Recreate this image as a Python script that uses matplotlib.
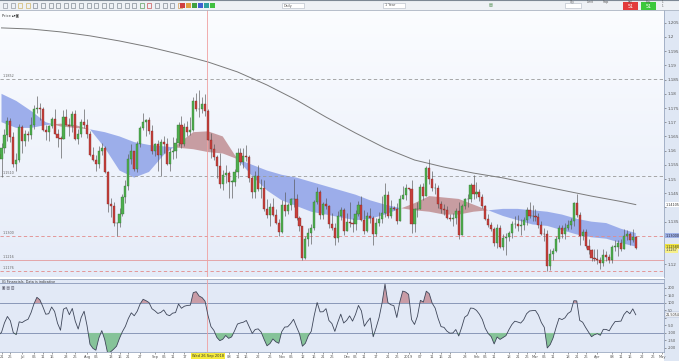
import numpy as np
import pandas as pd
import matplotlib
matplotlib.use("Agg")
import matplotlib.pyplot as plt
from matplotlib.patches import Rectangle
from matplotlib.transforms import blended_transform_factory

# ---------------- data (EUR/USD daily) ----------------
first_open = 1.1790
# history before the visible window (needed for the CCI window)
pre_close = [1.1694, 1.1720, 1.1655, 1.1624, 1.1537, 1.1665, 1.1693, 1.1659, 1.1693, 1.1720,
             1.1774, 1.1798, 1.1768, 1.1781, 1.1777, 1.1794, 1.1569, 1.1609, 1.1623, 1.1589, 1.1572]
pre_high = [1.1791, 1.1750, 1.1726, 1.1686, 1.1629, 1.1676, 1.1720, 1.1706, 1.1717, 1.1725,
            1.1795, 1.1840, 1.1798, 1.1813, 1.1797, 1.1808, 1.1852, 1.1623, 1.1636, 1.1632, 1.1614]
pre_low = [1.1676, 1.1680, 1.1645, 1.1611, 1.1510, 1.1530, 1.1637, 1.1650, 1.1653, 1.1650,
           1.1711, 1.1760, 1.1727, 1.1750, 1.1745, 1.1725, 1.1562, 1.1543, 1.1581, 1.1531, 1.1540]

# visible candles: 21 Jun 2018 .. 18 Apr 2019
close = [
    # Jun
    1.1608, 1.1655, 1.1703, 1.1647, 1.1554, 1.1568, 1.1684,
    # Jul
    1.1633, 1.1657, 1.1655, 1.1689, 1.1745, 1.1749, 1.1745, 1.1673, 1.1666, 1.1685, 1.1711,
    1.1659, 1.1643, 1.1642, 1.1720, 1.1691, 1.1686, 1.1729, 1.1641, 1.1657, 1.1701, 1.1691,
    # Aug
    1.1658, 1.1584, 1.1568, 1.1552, 1.1600, 1.1610, 1.1525, 1.1411, 1.1406, 1.1344, 1.1345,
    1.1377, 1.1437, 1.1475, 1.1571, 1.1599, 1.1536, 1.1623, 1.1679, 1.1701, 1.1709, 1.1669, 1.1600,
    # Sep
    1.1623, 1.1583, 1.1629, 1.1623, 1.1553, 1.1596, 1.1600, 1.1626, 1.1689, 1.1623,
    1.1683, 1.1666, 1.1673, 1.1775, 1.1747, 1.1747, 1.1763, 1.1738, 1.1639, 1.1604,
    # Oct
    1.1578, 1.1546, 1.1481, 1.1513, 1.1523, 1.1491, 1.1491, 1.1526, 1.1593, 1.1560, 1.1581,
    1.1578, 1.1502, 1.1453, 1.1512, 1.1465, 1.1468, 1.1393, 1.1374, 1.1401, 1.1375, 1.1345, 1.1312,
    # Nov
    1.1408, 1.1389, 1.1407, 1.1428, 1.1431, 1.1364, 1.1336, 1.1222, 1.1289, 1.1310, 1.1327,
    1.1418, 1.1453, 1.1373, 1.1411, 1.1406, 1.1340, 1.1327, 1.1291, 1.1370, 1.1392, 1.1317,
    # Dec
    1.1350, 1.1345, 1.1343, 1.1376, 1.1407, 1.1355, 1.1317, 1.1370, 1.1363, 1.1306, 1.1347,
    1.1359, 1.1379, 1.1445, 1.1370, 1.1398, 1.1396, 1.1353, 1.1430, 1.1443, 1.1467,
    # Jan
    1.1464, 1.1343, 1.1393, 1.1395, 1.1473, 1.1441, 1.1539, 1.1501, 1.1467, 1.1470, 1.1411, 1.1393,
    1.1391, 1.1364, 1.1360, 1.1363, 1.1387, 1.1303, 1.1406, 1.1430, 1.1430, 1.1479, 1.1448,
    # Feb
    1.1455, 1.1436, 1.1406, 1.1361, 1.1339, 1.1324, 1.1276, 1.1326, 1.1262, 1.1294,
    1.1295, 1.1310, 1.1342, 1.1342, 1.1335, 1.1338, 1.1357, 1.1392, 1.1370, 1.1370,
    # Mar
    1.1365, 1.1339, 1.1308, 1.1307, 1.1195, 1.1236, 1.1245, 1.1288, 1.1327, 1.1306, 1.1327,
    1.1338, 1.1353, 1.1417, 1.1375, 1.1298, 1.1312, 1.1265, 1.1250, 1.1223, 1.1219,
    # Apr
    1.1214, 1.1205, 1.1234, 1.1224, 1.1215, 1.1262, 1.1262, 1.1274, 1.1253, 1.1300,
    1.1305, 1.1284, 1.1295, 1.1258]
high = [
    1.1628, 1.1676, 1.1718, 1.1715, 1.1667, 1.1590, 1.1692,
    1.1690, 1.1673, 1.1670, 1.1720, 1.1762, 1.1791, 1.1768, 1.1752, 1.1690, 1.1690, 1.1720,
    1.1746, 1.1676, 1.1650, 1.1743, 1.1747, 1.1715, 1.1739, 1.1743, 1.1676, 1.1713, 1.1747,
    1.1710, 1.1670, 1.1612, 1.1586, 1.1617, 1.1627, 1.1618, 1.1529, 1.1432, 1.1420, 1.1350,
    1.1397, 1.1446, 1.1498, 1.1588, 1.1623, 1.1600, 1.1634, 1.1688, 1.1733, 1.1711, 1.1718, 1.1691,
    1.1627, 1.1638, 1.1642, 1.1653, 1.1644, 1.1610, 1.1648, 1.1646, 1.1700, 1.1721,
    1.1699, 1.1704, 1.1717, 1.1788, 1.1804, 1.1815, 1.1790, 1.1798, 1.1747, 1.1663,
    1.1625, 1.1586, 1.1590, 1.1532, 1.1548, 1.1527, 1.1498, 1.1537, 1.1609, 1.1610, 1.1608,
    1.1621, 1.1584, 1.1509, 1.1530, 1.1548, 1.1499, 1.1496, 1.1428, 1.1414, 1.1434, 1.1393, 1.1358,
    1.1427, 1.1456, 1.1416, 1.1434, 1.1500, 1.1448, 1.1369, 1.1335, 1.1299, 1.1326, 1.1343,
    1.1425, 1.1473, 1.1460, 1.1418, 1.1434, 1.1410, 1.1381, 1.1345, 1.1389, 1.1402, 1.1397,
    1.1380, 1.1420, 1.1363, 1.1392, 1.1424, 1.1442, 1.1390, 1.1385, 1.1397, 1.1369, 1.1363,
    1.1383, 1.1440, 1.1486, 1.1458, 1.1426, 1.1404, 1.1415, 1.1443, 1.1474, 1.1484,
    1.1470, 1.1497, 1.1398, 1.1420, 1.1483, 1.1486, 1.1546, 1.1570, 1.1529, 1.1487, 1.1480, 1.1423,
    1.1413, 1.1405, 1.1378, 1.1380, 1.1397, 1.1420, 1.1413, 1.1434, 1.1447, 1.1486, 1.1514,
    1.1488, 1.1465, 1.1448, 1.1410, 1.1377, 1.1350, 1.1332, 1.1342, 1.1339, 1.1307,
    1.1309, 1.1318, 1.1352, 1.1369, 1.1372, 1.1360, 1.1368, 1.1402, 1.1420, 1.1409,
    1.1393, 1.1379, 1.1353, 1.1326, 1.1321, 1.1252, 1.1258, 1.1300, 1.1339, 1.1339, 1.1345,
    1.1355, 1.1362, 1.1419, 1.1448, 1.1384, 1.1325, 1.1325, 1.1290, 1.1255, 1.1255,
    1.1255, 1.1226, 1.1255, 1.1245, 1.1237, 1.1268, 1.1285, 1.1287, 1.1288, 1.1324,
    1.1322, 1.1315, 1.1324, 1.1300]
low = [
    1.1508, 1.1590, 1.1635, 1.1630, 1.1541, 1.1527, 1.1560,
    1.1590, 1.1616, 1.1635, 1.1642, 1.1675, 1.1733, 1.1708, 1.1670, 1.1636, 1.1633, 1.1680,
    1.1658, 1.1613, 1.1574, 1.1640, 1.1690, 1.1650, 1.1665, 1.1638, 1.1622, 1.1647, 1.1680,
    1.1643, 1.1580, 1.1564, 1.1529, 1.1540, 1.1583, 1.1520, 1.1385, 1.1365, 1.1336, 1.1301,
    1.1330, 1.1370, 1.1416, 1.1463, 1.1552, 1.1530, 1.1525, 1.1612, 1.1671, 1.1653, 1.1657, 1.1588,
    1.1580, 1.1530, 1.1510, 1.1593, 1.1548, 1.1527, 1.1569, 1.1575, 1.1615, 1.1611,
    1.1615, 1.1653, 1.1654, 1.1668, 1.1740, 1.1720, 1.1734, 1.1721, 1.1637, 1.1573,
    1.1567, 1.1505, 1.1470, 1.1463, 1.1486, 1.1432, 1.1434, 1.1474, 1.1502, 1.1550, 1.1540,
    1.1565, 1.1491, 1.1432, 1.1433, 1.1458, 1.1434, 1.1388, 1.1362, 1.1336, 1.1371, 1.1341, 1.1301,
    1.1311, 1.1369, 1.1377, 1.1392, 1.1403, 1.1357, 1.1318, 1.1216, 1.1217, 1.1263, 1.1272,
    1.1322, 1.1411, 1.1360, 1.1360, 1.1394, 1.1326, 1.1320, 1.1267, 1.1278, 1.1355, 1.1304,
    1.1318, 1.1332, 1.1314, 1.1321, 1.1371, 1.1354, 1.1307, 1.1312, 1.1346, 1.1269, 1.1301,
    1.1334, 1.1347, 1.1368, 1.1363, 1.1364, 1.1391, 1.1342, 1.1355, 1.1431, 1.1427,
    1.1460, 1.1310, 1.1315, 1.1366, 1.1398, 1.1425, 1.1439, 1.1483, 1.1457, 1.1447, 1.1397, 1.1382,
    1.1375, 1.1358, 1.1353, 1.1336, 1.1342, 1.1290, 1.1302, 1.1393, 1.1402, 1.1419, 1.1431,
    1.1434, 1.1424, 1.1397, 1.1356, 1.1330, 1.1317, 1.1265, 1.1258, 1.1258, 1.1249,
    1.1234, 1.1282, 1.1292, 1.1327, 1.1318, 1.1302, 1.1322, 1.1339, 1.1362, 1.1353,
    1.1352, 1.1326, 1.1304, 1.1283, 1.1176, 1.1180, 1.1214, 1.1242, 1.1280, 1.1291, 1.1290,
    1.1320, 1.1323, 1.1336, 1.1368, 1.1269, 1.1286, 1.1259, 1.1236, 1.1213, 1.1210,
    1.1200, 1.1183, 1.1193, 1.1210, 1.1205, 1.1206, 1.1248, 1.1229, 1.1247, 1.1252,
    1.1287, 1.1268, 1.1279, 1.1252]

# moving-average cloud (read every 5 bars) and 200-day MA (read every 10 bars)
cloud_bar = list(range(0, 216, 5))
ma_fast = [1.1700, 1.1680, 1.1680, 1.1690, 1.1695, 1.1690, 1.1675, 1.1610, 1.1530, 1.1505,
           1.1525, 1.1585, 1.1625, 1.1665, 1.1668, 1.1650, 1.1570, 1.1510, 1.1460, 1.1425,
           1.1405, 1.1385, 1.1375, 1.1365, 1.1355, 1.1360, 1.1375, 1.1395, 1.1415, 1.1440,
           1.1435, 1.1430, 1.1410, 1.1390, 1.1370, 1.1355, 1.1340, 1.1335, 1.1320, 1.1305,
           1.1295, 1.1290, 1.1275, 1.1262]
ma_slow = [1.1800, 1.1775, 1.1740, 1.1700, 1.1685, 1.1680, 1.1675, 1.1665, 1.1650, 1.1630,
           1.1620, 1.1615, 1.1610, 1.1605, 1.1595, 1.1590, 1.1570, 1.1550, 1.1530, 1.1515,
           1.1505, 1.1490, 1.1475, 1.1460, 1.1445, 1.1425, 1.1410, 1.1398, 1.1390, 1.1385,
           1.1375, 1.1375, 1.1385, 1.1390, 1.1395, 1.1395, 1.1390, 1.1385, 1.1375, 1.1360,
           1.1350, 1.1345, 1.1325, 1.1310]
ma200_bar = [0, 10, 20, 30, 40, 50, 60, 70, 80, 90, 100, 110, 120, 130, 140, 150, 160,
             170, 180, 190, 200, 210, 215]
ma200 = [1.2032, 1.2028, 1.2018, 1.2004, 1.1986, 1.1965, 1.1940, 1.1912, 1.1877, 1.1831,
         1.1778, 1.1718, 1.1662, 1.1609, 1.1567, 1.1542, 1.1521, 1.1504, 1.1482, 1.1461,
         1.1440, 1.1421, 1.1410]

levels_grey = [1.1852, 1.1510]
levels_red = [1.1300, 1.1216, 1.1176]
price_ticks = [1.205, 1.2, 1.195, 1.19, 1.185, 1.18, 1.175, 1.17, 1.165, 1.16, 1.155,
               1.15, 1.145, 1.14, 1.135, 1.13, 1.125, 1.12]
cci_ticks = [200, 150, 100, 50, 0, -50, -100, -150, -200]
crosshair_label = "Wed 26 Sep 2018"

# ---------------- prepare ----------------
all_close = np.array(pre_close + close)
all_high = np.array(pre_high + high)
all_low = np.array(pre_low + low)
all_open = np.concatenate([[first_open], all_close[:-1]])
all_high = np.maximum(all_high, np.maximum(all_open, all_close))
all_low = np.minimum(all_low, np.minimum(all_open, all_close))
n_pre = len(pre_close)
bars = np.arange(len(all_close)) - n_pre
dates = pd.bdate_range("2018-05-23", periods=len(all_close) + 12)

tp = pd.Series((all_high + all_low + all_close) / 3.0)
sma = tp.rolling(20).mean()
mad = tp.rolling(20).apply(lambda s: np.mean(np.abs(s - s.mean())), raw=True)
cci = ((tp - sma) / (0.015 * mad)).to_numpy()

# ---------------- figure ----------------
W, H = 679, 361
fig = plt.figure(figsize=(W / 100, H / 100), dpi=100)
fig.patch.set_facecolor("white")


def fx(px):
    return px / W


def fy(py):
    return 1 - py / H


X0, XR = 1.5, 2.95          # pixel of bar 0, pixels per bar
xlim = (-X0 / XR, (664 - X0) / XR)

# right strip and toolbar
fig.add_artist(Rectangle((fx(664), 0), fx(15), fy(10), transform=fig.transFigure,
                         facecolor="#dfe7f4", edgecolor="none", zorder=-1))
fig.add_artist(Rectangle((0, fy(10)), 1, 10 / H, transform=fig.transFigure,
                         facecolor="#eef1f5", edgecolor="none", zorder=-1))
fig.add_artist(plt.Line2D([0, 1], [fy(10), fy(10)], transform=fig.transFigure,
                          color="#aab4c2", lw=0.6))
fig.add_artist(plt.Line2D([0, 1], [fy(0.4), fy(0.4)], transform=fig.transFigure,
                          color="#7d8894", lw=0.8))
icon_cols = ["#7d8590", "#7d8590", "#c9a84a", "#c9a84a", "#6a7480", "#6a7480", "#6a7480",
             "#6a7480", "#6a7480", "#6a7480", "#6a7480", "#6a7480", "#6a7480", "#6a7480",
             "#6a7480", "#6a7480", "#6a7480", "#6a7480", "#3b8a3b", "#c03030", "#6a7480",
             "#6a7480", "#6a7480", "#d08a2a"]
for k, c in enumerate(icon_cols):
    fig.add_artist(Rectangle((fx(3 + k * 7.6), fy(8)), fx(4), 5 / H, transform=fig.transFigure,
                             facecolor="none", edgecolor=c, lw=0.4))
for k, c in enumerate(["#d04040", "#e0a040", "#40a040", "#4060d0", "#30a0a0", "#40c040"]):
    fig.add_artist(Rectangle((fx(180 + k * 6), fy(8)), fx(5), 5 / H, transform=fig.transFigure,
                             facecolor=c, edgecolor="none"))
for xl, xr, t in [(282, 304, "Daily"), (383, 405, "1 Year")]:
    fig.add_artist(Rectangle((fx(xl), fy(8)), fx(xr - xl), 5 / H, transform=fig.transFigure,
                             facecolor="white", edgecolor="#b0b8c4", lw=0.4))
    fig.text(fx(xl + 2), fy(5.5), t, fontsize=2.4, color="#555", va="center")
fig.text(fx(489), fy(5.5), "\u25a4", fontsize=3, color="#4a8a4a", va="center")
fig.add_artist(Rectangle((fx(565), fy(8)), fx(16), 5 / H, transform=fig.transFigure,
                         facecolor="white", edgecolor="#b0b8c4", lw=0.4))
for xx, t in [(572, "Qty"), (590, "Limit"), (606, "Stop"), (630, "Sell"), (648, "Buy")]:
    fig.text(fx(xx), fy(1.8), t, fontsize=2.0, color="#555", ha="center", va="center")
fig.add_artist(Rectangle((fx(623), fy(10)), fx(15), 7.5 / H, transform=fig.transFigure,
                         facecolor="#e23b3b", edgecolor="none"))
fig.add_artist(Rectangle((fx(641), fy(10)), fx(15), 7.5 / H, transform=fig.transFigure,
                         facecolor="#3cc83c", edgecolor="none"))
fig.text(fx(630.5), fy(6.3), "51", fontsize=3.4, color="white", ha="center", va="center")
fig.text(fx(648.5), fy(6.3), "51", fontsize=3.4, color="white", ha="center", va="center")
fig.text(fx(663), fy(4), "1\n1", fontsize=2.0, color="#555", ha="center", va="center")

# ---------------- main price panel ----------------
ax = fig.add_axes([0, fy(277), fx(664), (277 - 10) / H])
ax.set_xlim(*xlim)
ax.set_ylim(1.11552, 1.2095)
grad = np.linspace(0, 1, 256).reshape(-1, 1)
top_c = np.array([0.985, 0.99, 1.0])
bot_c = np.array([0.90, 0.925, 0.975])
img = top_c + (bot_c - top_c) * grad[:, :, None]
ax.imshow(img, extent=[0, 1, 0, 1], transform=ax.transAxes, aspect="auto", zorder=0)

fast = np.array(ma_fast)
slow = np.array(ma_slow)
cb = np.array(cloud_bar)
ax.fill_between(cb, fast, slow, where=fast >= slow, interpolate=True,
                facecolor="#c39498", edgecolor="none", alpha=0.9, zorder=1)
ax.fill_between(cb, fast, slow, where=fast <= slow, interpolate=True,
                facecolor="#8ea2e8", edgecolor="none", alpha=0.85, zorder=1)
ax.plot(ma200_bar, ma200, color="#7a7a7a", lw=0.7, zorder=2)

for lv in levels_grey:
    ax.axhline(lv, color="#9a9a9a", lw=0.6, ls=(0, (4, 3)), zorder=1.5)
ax.axhline(levels_red[0], color="#e38a8a", lw=0.6, ls=(0, (4, 3)), zorder=1.5)
ax.axhline(levels_red[1], color="#e38a8a", lw=0.5, zorder=1.5)
ax.axhline(levels_red[2], color="#e38a8a", lw=0.6, ls=(0, (4, 3)), zorder=1.5)
for lv in levels_grey + levels_red:
    ax.text(0.004, lv + 0.0004, f"{lv:.4f}", transform=blended_transform_factory(ax.transAxes, ax.transData),
            fontsize=2.4, color="#666", va="bottom", zorder=3)

up = all_close >= all_open
body_lo = np.minimum(all_open, all_close)
body_h = np.maximum(np.abs(all_close - all_open), 0.00006)
ax.vlines(bars, all_low, all_high, color="#555555", lw=0.45, zorder=3)
ax.bar(bars[up], body_h[up], bottom=body_lo[up], width=0.72, color="#4fae4f",
       edgecolor="#2f6f2f", lw=0.25, zorder=4)
ax.bar(bars[~up], body_h[~up], bottom=body_lo[~up], width=0.72, color="#c7403c",
       edgecolor="#7a2522", lw=0.25, zorder=4)

cross_x = 69.7
ax.axvline(cross_x, color="#f0a0a0", lw=0.6, zorder=2.5)

# boxed values on the price scale (they cover the ordinary labels they sit on)
box_specs = [(ma200[-1], f"{ma200[-1] + 0.00005:.5f}", "white", "#333"),
             (levels_red[0], "1.13000", "#9fb2e8", "#223"),
             (close[-1] + 0.0004, f"{close[-1]:.5f}", "#f2e640", "#333"),
             (close[-1] - 0.0008, f"{close[-1] - 0.0001:.4f}", "#f7f08a", "#333")]
ax.yaxis.tick_right()
ax.set_yticks(price_ticks)
ax.set_yticklabels(["" if min(abs(v - b[0]) for b in box_specs) < 0.0015 else f"{v:g}"
                    for v in price_ticks])
ax.tick_params(axis="y", labelsize=3, pad=1, length=1.5, colors="#555", width=0.4)
ax.set_xticks([])
for s in ["top", "left", "bottom"]:
    ax.spines[s].set_visible(False)
ax.spines["right"].set_color("#9aa8c0")
ax.spines["right"].set_linewidth(0.6)

bt = blended_transform_factory(ax.transAxes, ax.transData)
for yv, t, fc, tc in box_specs:
    ax.text(1.002, yv, t, transform=bt, fontsize=2.4, color=tc, va="center", ha="left",
            bbox=dict(boxstyle="square,pad=0.15", fc=fc, ec="none"), zorder=6, clip_on=False)
fig.text(fx(2), fy(15), "Price \u25b4\u25be\u25a3", fontsize=2.6, color="#333", va="center")

# ---------------- CCI panel ----------------
axc = fig.add_axes([0, fy(352), fx(664), (352 - 279) / H])
axc.set_xlim(*xlim)
axc.set_ylim(-227, 260)
axc.set_facecolor("#e2e9f6")
axc.fill_between(bars, cci, 100, where=cci > 100, interpolate=True,
                 facecolor="#c99ca6", edgecolor="none", zorder=2)
axc.fill_between(bars, cci, -100, where=cci < -100, interpolate=True,
                 facecolor="#86c399", edgecolor="none", zorder=2)
axc.axhline(100, color="#8a98b8", lw=0.7, zorder=1)
axc.axhline(-100, color="#8a98b8", lw=0.7, zorder=1)
axc.axhline(230, color="#8a98b8", lw=0.6, zorder=1)
axc.plot(bars, cci, color="#3e4659", lw=0.6, zorder=3)
axc.axvline(cross_x, color="#f0a0a0", lw=0.6, zorder=2.5)
axc.text(0.003, 0.985, "IG Financials. Data is indicative", transform=axc.transAxes,
         fontsize=2.4, color="#333", va="top")
axc.text(0.003, 0.90, "\u25a3 \u25a4 \u25a5", transform=axc.transAxes, fontsize=2.6,
         color="#556", va="top")

last_cci = cci[-1]
axc.yaxis.tick_right()
axc.set_yticks(cci_ticks)
axc.set_yticklabels(["" if abs(v - last_cci) < 28 else str(v) for v in cci_ticks])
axc.tick_params(axis="y", labelsize=2.6, pad=1, length=1.5, colors="#555", width=0.4)
axc.text(1.002, last_cci, f"{last_cci:.4f}", transform=blended_transform_factory(axc.transAxes, axc.transData),
         fontsize=2.4, color="#333", va="center", ha="left",
         bbox=dict(boxstyle="square,pad=0.15", fc="white", ec="#8a98b8", lw=0.3), zorder=6, clip_on=False)

# date ticks (labels under the crosshair date box are hidden by it)
box_lo, box_hi = (194 - X0) / XR, (222 - X0) / XR
tick_pos, tick_lab = [], []
ext_bars = np.arange(len(dates)) - n_pre
for k in range(1, len(dates)):
    d, p = dates[k], dates[k - 1]
    b = ext_bars[k]
    if b < xlim[0] or b > xlim[1]:
        continue
    if d.month != p.month:
        tick_pos.append(b)
        tick_lab.append("" if box_lo <= b <= box_hi else ("2019" if d.month == 1 else d.strftime("%b")))
    else:
        for cut in (6, 11, 16, 21, 26):
            if p.day < cut <= d.day:
                tick_pos.append(b)
                tick_lab.append("" if box_lo <= b <= box_hi else f"{d.day:02d}")
                break
axc.set_xticks(tick_pos)
axc.set_xticklabels(tick_lab)
axc.tick_params(axis="x", labelsize=2.6, pad=1.2, length=1.2, colors="#555", width=0.4)
axc.spines["left"].set_visible(False)
for s in ["top", "bottom", "right"]:
    axc.spines[s].set_color("#9aa8c0")
    axc.spines[s].set_linewidth(0.6)

fig.text(fx(208), fy(356.2), crosshair_label, fontsize=2.6, color="#333", ha="center", va="center",
         bbox=dict(boxstyle="square,pad=0.2", fc="#f5ea3a", ec="none"), zorder=10)

fig.savefig("out.png", dpi=100)
